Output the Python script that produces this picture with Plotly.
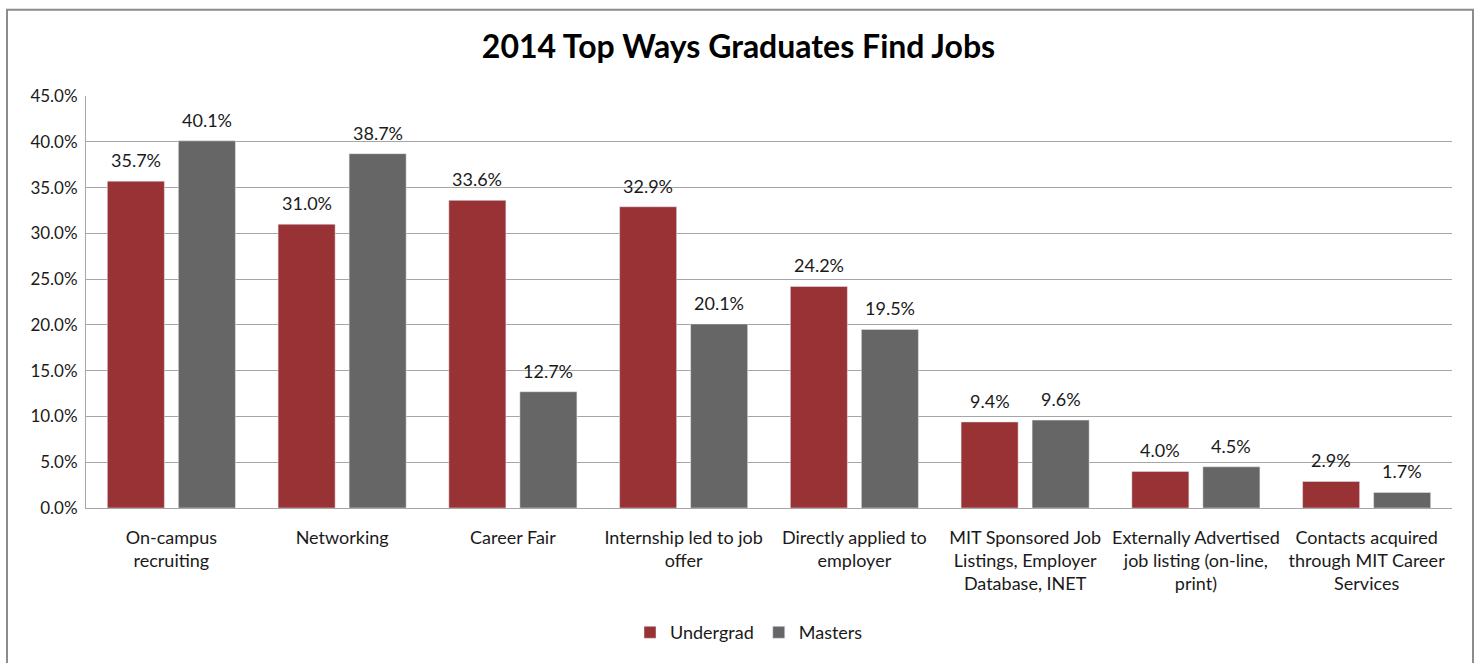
import plotly.graph_objects as go

categories = [
    "On-campus<br>recruiting",
    "Networking",
    "Career Fair",
    "Internship led to job<br>offer",
    "Directly applied to<br>employer",
    "MIT Sponsored Job<br>Listings, Employer<br>Database, INET",
    "Externally Advertised<br>job listing (on-line,<br>print)",
    "Contacts acquired<br>through MIT Career<br>Services",
]
undergrad = [0.357, 0.310, 0.336, 0.329, 0.242, 0.094, 0.040, 0.029]
masters = [0.401, 0.387, 0.127, 0.201, 0.195, 0.096, 0.045, 0.017]
y_ticks = [0.0, 0.05, 0.10, 0.15, 0.20, 0.25, 0.30, 0.35, 0.40, 0.45]

RED = "#983234"
GRAY = "#666666"
FONT = "Lato"
TXT = "#1a1a1a"

fig = go.Figure()
fig.add_trace(go.Bar(name="Undergrad", x=categories, y=undergrad, marker_color=RED))
fig.add_trace(go.Bar(name="Masters", x=categories, y=masters, marker_color=GRAY))

annotations = []
for series, shift in ((undergrad, -35.5), (masters, 35.5)):
    for c, v in zip(categories, series):
        annotations.append(dict(
            x=c, y=v, xref="x", yref="y", text=f"{v*100:.1f}%",
            showarrow=False, xshift=shift, yshift=21,
            font=dict(family=FONT, size=18, color=TXT),
        ))

L, R, T, B = 86, 25, 96, 147
W, H = 1477, 663
pw, ph = W - L - R, H - T - B

fig.update_layout(
    width=W, height=H,
    margin=dict(l=L, r=R, t=T, b=B),
    paper_bgcolor="white", plot_bgcolor="white",
    barmode="group", bargap=0.168, bargroupgap=0.197,
    title=dict(text="<b>2014 Top Ways Graduates Find Jobs</b>", x=0.5, xanchor="center",
               y=1 - 47 / H, yanchor="middle",
               font=dict(family=FONT, size=32, color="#000000")),
    font=dict(family=FONT, size=18, color=TXT),
    xaxis=dict(showline=True, linecolor="#a6a6a6", linewidth=1, ticks="",
               tickfont=dict(family=FONT, size=18, color=TXT), ticklabelstandoff=13),
    yaxis=dict(range=[0, 0.45], tickvals=y_ticks, tickformat=".1%",
               showgrid=True, gridcolor="#a6a6a6", gridwidth=1,
               showline=True, linecolor="#a6a6a6", linewidth=1, zeroline=False,
               tickfont=dict(family=FONT, size=17, color=TXT), ticks="", ticklabelstandoff=4),
    legend=dict(orientation="h", x=(630 - L) / pw, xanchor="left", y=(H - 643 - B) / ph, yanchor="middle",
                font=dict(family=FONT, size=18, color=TXT), itemwidth=30, traceorder="normal"),
    annotations=annotations,
    shapes=[dict(type="rect", xref="paper", yref="paper",
                 x0=(7 - L) / pw, x1=(1473 - L) / pw,
                 y0=(H - B - 700) / ph, y1=(H - B - 8) / ph,
                 line=dict(color="#8c8c8c", width=2), fillcolor="rgba(0,0,0,0)", layer="below")],
)

fig.write_html("out.html", config={"displayModeBar": False},
               post_script="document.body.style.margin='0';document.body.style.overflow='hidden';")
